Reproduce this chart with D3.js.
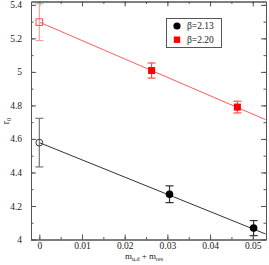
<!DOCTYPE html>
<html>
<head>
<meta charset="utf-8">
<script src="https://cdn.jsdelivr.net/npm/d3@7"></script>
<style>
  body { margin: 0; background: #fff; }
  svg { display: block; font-family: "Liberation Serif", "DejaVu Serif", serif; }
</style>
</head>
<body>
<div id="canvas"></div>
<script>
/* DATA */
const beta213X = [0.0305, 0.0502];
const beta213Y = [4.27, 4.068];
const beta213Err = [0.05, 0.045];
const beta213Extrap = { x: 0, y: 4.578, err: 0.145 };
const beta213Fit = [[0, 4.578], [0.053, 4.033]];

const beta220X = [0.0263, 0.0464];
const beta220Y = [5.008, 4.79];
const beta220Err = [0.045, 0.035];
const beta220Extrap = { x: 0, y: 5.297, err: 0.11 };
const beta220Fit = [[0, 5.297], [0.053, 4.715]];

const xTicks = [0, 0.01, 0.02, 0.03, 0.04, 0.05];
const yTicks = [4, 4.2, 4.4, 4.6, 4.8, 5, 5.2, 5.4];
const legendLabels = ["\u03b2=2.13", "\u03b2=2.20"];

/* CREATE THE SVG CANVAS */
const width = 269;
const height = 265;
const margin = { left: 31, right: 3, top: 1.5, bottom: 25.5 };

const svg = d3.select("#canvas")
    .append("svg")
    .attr("width", width)
    .attr("height", height);

const x = d3.scaleLinear()
    .domain([-0.00195, 0.0531])
    .range([margin.left, width - margin.right]);

const y = d3.scaleLinear()
    .domain([4, 5.42])
    .range([height - margin.bottom, margin.top]);

const axisColor = "#555";

/* AXES: major + minor ticks pointing inward on all four sides */
const xMinor = d3.range(0, 0.0531, 0.005);
const yMinor = d3.range(4, 5.42, 0.1);

function styleAxis(g) {
    g.selectAll("path, line").attr("stroke", axisColor);
    g.selectAll("text").attr("fill", "#222").attr("font-size", "9.5px")
        .attr("font-family", "Liberation Serif, serif");
}

svg.append("g")
    .attr("transform", `translate(0,${y(4)})`)
    .call(d3.axisBottom(x).tickValues(xTicks).tickFormat(d => d === 0 ? "0" : d3.format(".2f")(d))
        .tickSizeInner(-5).tickSizeOuter(0).tickPadding(2.5))
    .call(styleAxis);

svg.append("g")
    .attr("transform", `translate(0,${y(4)})`)
    .call(d3.axisBottom(x).tickValues(xMinor).tickFormat("").tickSizeInner(-2.5).tickSizeOuter(0))
    .call(styleAxis);

svg.append("g")
    .attr("transform", `translate(0,${margin.top})`)
    .call(d3.axisTop(x).tickValues(xTicks).tickFormat("").tickSizeInner(-5).tickSizeOuter(0))
    .call(styleAxis);

svg.append("g")
    .attr("transform", `translate(0,${margin.top})`)
    .call(d3.axisTop(x).tickValues(xMinor).tickFormat("").tickSizeInner(-2.5).tickSizeOuter(0))
    .call(styleAxis);

svg.append("g")
    .attr("transform", `translate(${margin.left},0)`)
    .call(d3.axisLeft(y).tickValues(yTicks).tickFormat(d3.format("~g"))
        .tickSizeInner(-5).tickSizeOuter(0).tickPadding(9))
    .call(styleAxis);

svg.append("g")
    .attr("transform", `translate(${margin.left},0)`)
    .call(d3.axisLeft(y).tickValues(yMinor).tickFormat("").tickSizeInner(-2.5).tickSizeOuter(0))
    .call(styleAxis);

svg.append("g")
    .attr("transform", `translate(${width - margin.right},0)`)
    .call(d3.axisRight(y).tickValues(yTicks).tickFormat("").tickSizeInner(-5).tickSizeOuter(0))
    .call(styleAxis);

svg.append("g")
    .attr("transform", `translate(${width - margin.right},0)`)
    .call(d3.axisRight(y).tickValues(yMinor).tickFormat("").tickSizeInner(-2.5).tickSizeOuter(0))
    .call(styleAxis);

/* FIT LINES */
const line = d3.line().x(d => x(d[0])).y(d => y(d[1]));

svg.append("path")
    .attr("d", line(beta220Fit))
    .attr("fill", "none")
    .attr("stroke", "#ff5a5a")
    .attr("stroke-width", 1);

svg.append("path")
    .attr("d", line(beta213Fit))
    .attr("fill", "none")
    .attr("stroke", "#333")
    .attr("stroke-width", 1);

/* ERROR BARS */
function errorBar(cx, cy, err, color) {
    const g = svg.append("g").attr("stroke", color).attr("stroke-width", 1.2);
    g.append("line").attr("x1", x(cx)).attr("x2", x(cx)).attr("y1", y(cy - err)).attr("y2", y(cy + err));
    g.append("line").attr("x1", x(cx) - 4).attr("x2", x(cx) + 4).attr("y1", y(cy - err)).attr("y2", y(cy - err));
    g.append("line").attr("x1", x(cx) - 4).attr("x2", x(cx) + 4).attr("y1", y(cy + err)).attr("y2", y(cy + err));
}

errorBar(beta220Extrap.x, beta220Extrap.y, beta220Extrap.err, "#ffa0a0");
errorBar(beta213Extrap.x, beta213Extrap.y, beta213Extrap.err, "#777");
beta220X.forEach((d, i) => errorBar(d, beta220Y[i], beta220Err[i], "#ff4d4d"));
beta213X.forEach((d, i) => errorBar(d, beta213Y[i], beta213Err[i], "#333"));

/* POINTS */
svg.append("rect")
    .attr("x", x(beta220Extrap.x) - 3.3)
    .attr("y", y(beta220Extrap.y) - 3.3)
    .attr("width", 6.6)
    .attr("height", 6.6)
    .attr("fill", "none")
    .attr("stroke", "#ff4d4d")
    .attr("stroke-width", 1);

svg.append("circle")
    .attr("cx", x(beta213Extrap.x))
    .attr("cy", y(beta213Extrap.y))
    .attr("r", 3.4)
    .attr("fill", "none")
    .attr("stroke", "#333")
    .attr("stroke-width", 1);

svg.selectAll(".sq")
    .data(beta220X)
    .join("rect")
    .attr("x", d => x(d) - 3.5)
    .attr("y", (d, i) => y(beta220Y[i]) - 3.5)
    .attr("width", 7)
    .attr("height", 7)
    .attr("fill", "#ff0000");

svg.selectAll(".dot")
    .data(beta213X)
    .join("circle")
    .attr("cx", d => x(d))
    .attr("cy", (d, i) => y(beta213Y[i]))
    .attr("r", 3.8)
    .attr("fill", "#000");

/* LEGEND */
const legend = svg.append("g").attr("transform", "translate(166.5,18.5)");

legend.append("rect")
    .attr("width", 55)
    .attr("height", 29)
    .attr("fill", "#fff")
    .attr("stroke", "#555")
    .attr("stroke-width", 1);

legend.append("circle")
    .attr("cx", 10.5)
    .attr("cy", 7.5)
    .attr("r", 3.6)
    .attr("fill", "#000");

legend.append("rect")
    .attr("x", 7.3)
    .attr("y", 18)
    .attr("width", 6.4)
    .attr("height", 6.4)
    .attr("fill", "#ff0000");

legend.selectAll("text")
    .data(legendLabels)
    .join("text")
    .attr("x", 20.5)
    .attr("y", (d, i) => 10.8 + i * 13.5)
    .attr("font-size", "9.5px")
    .attr("fill", "#222")
    .text(d => d);

/* AXIS TITLES */
const xTitle = svg.append("text")
    .attr("x", 144)
    .attr("y", 258.5)
    .attr("text-anchor", "middle")
    .attr("font-size", "9px")
    .attr("fill", "#222");
xTitle.append("tspan").text("m");
xTitle.append("tspan").attr("font-size", "6px").attr("dy", 2).text("u,d");
xTitle.append("tspan").attr("dy", -2).text(" + m");
xTitle.append("tspan").attr("font-size", "6px").attr("dy", 2).text("res");

const yTitle = svg.append("text")
    .attr("transform", "translate(9,121) rotate(-90)")
    .attr("text-anchor", "middle")
    .attr("font-size", "9.5px")
    .attr("fill", "#222");
yTitle.append("tspan").text("r");
yTitle.append("tspan").attr("font-size", "6.5px").attr("dy", 2).text("0");
</script>
</body>
</html>
